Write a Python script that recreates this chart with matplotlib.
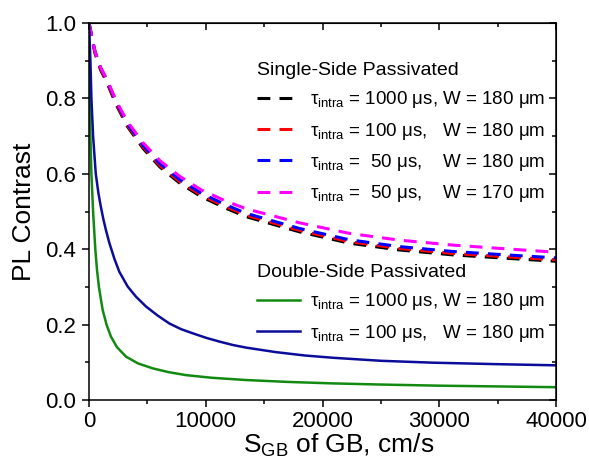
import matplotlib
matplotlib.use("Agg")
import matplotlib.pyplot as plt

plt.rcParams['font.family'] = ['Liberation Sans', 'DejaVu Sans']
plt.rcParams['mathtext.fontset'] = 'custom'
plt.rcParams['mathtext.rm'] = 'Liberation Sans'
plt.rcParams['mathtext.it'] = 'Liberation Sans:italic'

# ---- data ----
x_ss = [0, 250, 513, 1000, 1510, 2350, 3300, 4640, 6070, 7780, 9630, 11770,
        13480, 18030, 22300, 26580, 31130, 35700, 40000]
y_ss_1000_180 = [1.0, 0.960, 0.920, 0.875, 0.844, 0.782, 0.725, 0.667, 0.618, 0.575,
                 0.539, 0.508, 0.486, 0.446, 0.416, 0.398, 0.385, 0.376, 0.368]
y_ss_100_180 = [1.0, 0.961, 0.922, 0.878, 0.847, 0.785, 0.728, 0.671, 0.622, 0.579,
                0.543, 0.512, 0.490, 0.450, 0.420, 0.402, 0.389, 0.380, 0.372]
y_ss_50_180 = [1.0, 0.963, 0.925, 0.881, 0.851, 0.789, 0.732, 0.675, 0.627, 0.584,
               0.548, 0.517, 0.495, 0.455, 0.425, 0.407, 0.394, 0.385, 0.377]
y_ss_50_170 = [1.0, 0.962, 0.924, 0.881, 0.852, 0.792, 0.738, 0.682, 0.635, 0.593,
               0.557, 0.527, 0.507, 0.470, 0.442, 0.424, 0.411, 0.401, 0.392]

x_ds_100 = [0, 60, 120, 206, 350, 580, 800, 1000, 1227, 1456, 1730, 2170, 2600, 3312,
            4026, 4882, 5881, 6880, 7880, 8879, 10021, 11163, 12305, 13447, 16000,
            18500, 20900, 25000, 29430, 35000, 40000]
y_ds_100 = [1.0, 0.95, 0.90, 0.80, 0.70, 0.60, 0.55, 0.515, 0.48, 0.45, 0.418, 0.375,
            0.340, 0.301, 0.274, 0.248, 0.224, 0.203, 0.188, 0.177, 0.165, 0.155, 0.146,
            0.139, 0.127, 0.118, 0.112, 0.104, 0.099, 0.095, 0.092]

x_ds_1000 = [0, 20, 60, 120, 206, 350, 540, 685, 850, 1030, 1170, 1500, 1880, 2400,
             3170, 4200, 5450, 6800, 8300, 10500, 13440, 17000, 20900, 25000, 30000,
             35000, 40000]
y_ds_1000 = [1.0, 0.90, 0.80, 0.70, 0.60, 0.50, 0.40, 0.345, 0.30, 0.265, 0.239, 0.200,
             0.168, 0.140, 0.115, 0.097, 0.084, 0.074, 0.066, 0.059, 0.053, 0.048, 0.044,
             0.041, 0.038, 0.036, 0.034]

ss_labels = ["τ$_{\\mathrm{intra}}$ = 1000 μs, W = 180 μm",
             "τ$_{\\mathrm{intra}}$ = 100 μs,   W = 180 μm",
             "τ$_{\\mathrm{intra}}$ =  50 μs,    W = 180 μm",
             "τ$_{\\mathrm{intra}}$ =  50 μs,    W = 170 μm"]
ds_labels = ["τ$_{\\mathrm{intra}}$ = 1000 μs, W = 180 μm",
             "τ$_{\\mathrm{intra}}$ = 100 μs,   W = 180 μm"]
ss_title = "Single-Side Passivated"
ds_title = "Double-Side Passivated"
xlabel = "S$_{\\mathrm{GB}}$ of GB, cm/s"
ylabel = "PL Contrast"

# ---- figure ----
fig = plt.figure(figsize=(5.89, 4.66), dpi=100)
ax = fig.add_axes([89/589, 1-400/466, 467/589, 377/466])

dash = (4.2, 3.0)
lw_d = 2.2
l1, = ax.plot(x_ss, y_ss_1000_180, color='black', lw=lw_d, dashes=dash)
l2, = ax.plot(x_ss, y_ss_100_180, color='#ff0000', lw=lw_d, dashes=dash)
l3, = ax.plot(x_ss, y_ss_50_180, color='#0000ff', lw=lw_d, dashes=dash)
l4, = ax.plot(x_ss, y_ss_50_170, color='#ff00ff', lw=lw_d, dashes=dash)
l5, = ax.plot(x_ds_1000, y_ds_1000, color='#128a12', lw=1.8)
l6, = ax.plot(x_ds_100, y_ds_100, color='#0c0c9a', lw=1.8)

ax.set_xlim(0, 40000)
ax.set_ylim(0, 1.0)
ax.set_xticks([0, 10000, 20000, 30000, 40000])
ax.set_xticks([5000, 15000, 25000, 35000], minor=True)
ax.set_yticks([0.0, 0.2, 0.4, 0.6, 0.8, 1.0])
ax.set_yticklabels(['0.0', '0.2', '0.4', '0.6', '0.8', '1.0'])
ax.set_yticks([0.1, 0.3, 0.5, 0.7, 0.9], minor=True)

for s in ax.spines.values():
    s.set_linewidth(1.1)
ax.tick_params(axis='both', which='major', labelsize=16, length=5, width=1.1, direction='out')
ax.tick_params(axis='both', which='minor', length=3, width=1.1, direction='out')
ax.tick_params(axis='x', which='major', pad=3)
ax.tick_params(axis='y', which='major', pad=4)

# mirrored inward ticks on top and right
axt = ax.secondary_xaxis('top')
axt.set_xticks([0, 10000, 20000, 30000, 40000])
axt.set_xticks([5000, 15000, 25000, 35000], minor=True)
axt.tick_params(which='major', direction='in', length=5, width=1.1, labeltop=False)
axt.tick_params(which='minor', direction='in', length=3, width=1.1)
axr = ax.secondary_yaxis('right')
axr.set_yticks([0.0, 0.2, 0.4, 0.6, 0.8, 1.0])
axr.set_yticks([0.1, 0.3, 0.5, 0.7, 0.9], minor=True)
axr.tick_params(which='major', direction='in', length=5, width=1.1, labelright=False)
axr.tick_params(which='minor', direction='in', length=3, width=1.1)

ax.set_xlabel(xlabel, fontsize=19, labelpad=1)
ax.set_ylabel(ylabel, fontsize=19, labelpad=7)
ax.xaxis.set_label_coords(0.535, -0.085)
ax.xaxis.label.set_va('top')

leg1 = ax.legend([l1, l2, l3, l4], ss_labels, title=ss_title, loc='upper left',
                 bbox_to_anchor=((257-89)/467, (400-62)/377), frameon=False,
                 fontsize=13.5, title_fontsize=14, alignment='left',
                 handlelength=2.3, handletextpad=0.5, borderpad=0, borderaxespad=0,
                 labelspacing=0.55)
ax.add_artist(leg1)
leg2 = ax.legend([l5, l6], ds_labels, title=ds_title, loc='upper left',
                 bbox_to_anchor=((257-89)/467, (400-264)/377), frameon=False,
                 fontsize=13.5, title_fontsize=14, alignment='left',
                 handlelength=2.3, handletextpad=0.5, borderpad=0, borderaxespad=0,
                 labelspacing=0.55)

fig.savefig('out.png', dpi=100)
